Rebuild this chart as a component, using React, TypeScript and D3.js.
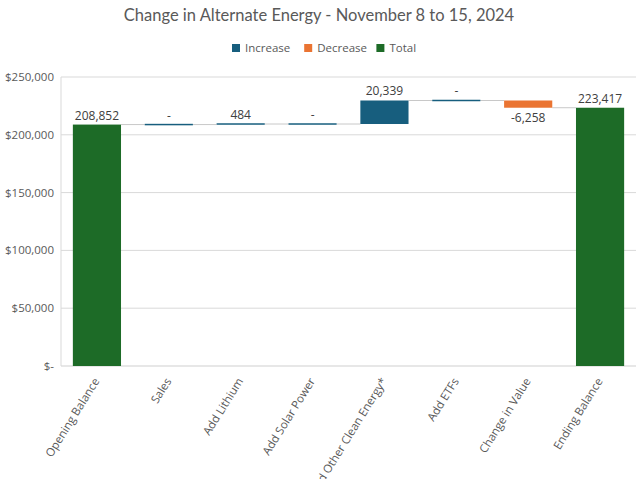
import React from "react";
import * as d3 from "d3";

const categories = ["Opening Balance", "Sales", "Add Lithium", "Add Solar Power", "Add Other Clean Energy*", "Add ETFs", "Change in Value", "Ending Balance"];
const values = [208852, 0, 484, 0, 20339, 0, -6258, 223417];
const kinds = ["total", "increase", "increase", "increase", "increase", "increase", "decrease", "total"];
const yTicks = [0, 50000, 100000, 150000, 200000, 250000];
const legendItems = [
  { key: "increase", label: "Increase" },
  { key: "decrease", label: "Decrease" },
  { key: "total", label: "Total" },
];

const colors: Record<string, string> = {
  increase: "#175e7e",
  decrease: "#ea7432",
  total: "#1d6b27",
};

const W = 636;
const H = 479;
const margin = { left: 61, right: 0, top: 77, bottom: 113 };

export default function App() {
  const x = d3.scaleBand<string>().domain(categories).range([margin.left, W - margin.right]).paddingInner(0.33).paddingOuter(0.165);
  const y = d3.scaleLinear().domain([0, 250000]).range([H - margin.bottom, margin.top]);
  const fmt0 = d3.format(",");
  const fmt = (v: number) => fmt0(v).replace("\u2212", "-");

  let running = 0;
  const bars = categories.map((c, i) => {
    const v = values[i];
    let y0: number, y1: number;
    if (kinds[i] === "total") {
      y0 = 0;
      y1 = v;
      running = v;
    } else {
      y0 = running;
      y1 = running + v;
      running = y1;
    }
    return { c, v, y0, y1, end: running, kind: kinds[i] };
  });

  const font = "'Open Sans', 'DejaVu Sans', sans-serif";

  // legend layout
  const legendY = 48;
  const legendWidths = legendItems.map((l) => 13 + l.label.length * 5.9 + 12);
  let lx = 232;

  return (
    <svg width={W} height={H} style={{ position: "absolute", left: 0, top: 0, background: "#fff" }} fontFamily={font}>
      <text x={W / 2 + 1} y={21} textAnchor="middle" fontSize={16.5} fill="#595959" fontFamily="Lato, 'Open Sans', sans-serif">
        Change in Alternate Energy - November 8 to 15, 2024
      </text>
      {legendItems.map((l, i) => {
        const gx = lx;
        lx += legendWidths[i];
        return (
          <g key={l.key} transform={`translate(${gx},${legendY})`}>
            <rect x={0} y={-4} width={8} height={8} fill={colors[l.key]} />
            <text x={13} y={4} fontSize={11.5} fill="#595959">{l.label}</text>
          </g>
        );
      })}
      {yTicks.map((t) => (
        <g key={t}>
          <line x1={margin.left} x2={W - margin.right} y1={y(t)} y2={y(t)} stroke={t === 0 ? "#cfcfcf" : "#d9d9d9"} strokeWidth={1} />
          <text x={54} y={y(t) + 4} textAnchor="end" fontSize={11.5} fill="#595959">
            {t === 0 ? "$-" : "$" + fmt(t)}
          </text>
        </g>
      ))}
      <line x1={margin.left} x2={margin.left} y1={margin.top} y2={y(0)} stroke="#d9d9d9" />
      {bars.map((b, i) => {
        if (i === bars.length - 1) return null;
        const x1 = (x(b.c) as number) + x.bandwidth();
        const x2 = x(categories[i + 1]) as number;
        return <line key={"c" + i} x1={x1} x2={x2} y1={y(b.end)} y2={y(b.end)} stroke="#c8c8c8" strokeWidth={1} />;
      })}
      {bars.map((b) => {
        const top = Math.max(b.y0, b.y1);
        const bot = Math.min(b.y0, b.y1);
        let yt = y(top);
        let h = y(bot) - y(top);
        if (h < 1.5) {
          yt = y(top) - 0.75;
          h = 1.5;
        }
        const bx = x(b.c) as number;
        const cx = bx + x.bandwidth() / 2;
        const label = b.v === 0 ? "-" : fmt(b.v);
        const ly = b.v < 0 ? y(bot) + 14 : y(top) - 5;
        return (
          <g key={b.c}>
            <rect x={bx} y={yt} width={x.bandwidth()} height={h} fill={colors[b.kind]} />
            <text x={cx} y={ly} textAnchor="middle" fontSize={12} fill="#404040">{label}</text>
          </g>
        );
      })}
      {categories.map((c) => {
        const cx = (x(c) as number) + x.bandwidth() / 2 + 3;
        return (
          <text key={"l" + c} transform={`translate(${cx},${y(0) + 15}) rotate(-58)`} textAnchor="end" fontSize={11.5} fill="#595959">
            {c}
          </text>
        );
      })}
    </svg>
  );
}
